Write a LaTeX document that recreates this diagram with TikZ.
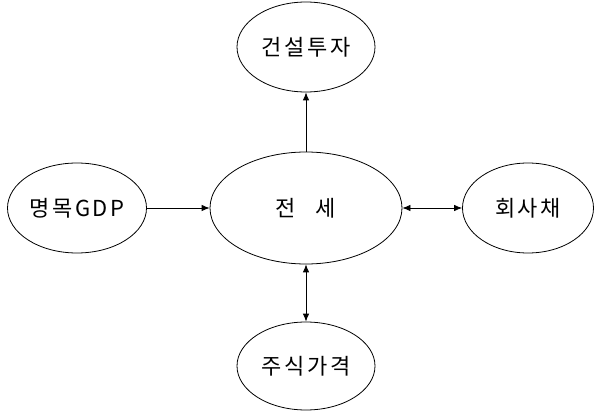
\documentclass[tikz,border=0pt]{standalone}
\usepackage{fontspec}
\usepackage{tikz}
\usetikzlibrary{shapes.geometric,arrows.meta}
\newfontfamily\kofont[LetterSpace=12]{Noto Sans CJK KR}
\tikzset{
  bubble/.style={ellipse,draw,line width=.8pt,inner sep=0pt,font=\kofont\fontsize{22}{25}\selectfont},
  link/.style={line width=.8pt,-{Latex[length=8pt,width=6.5pt]}},
  both/.style={line width=.8pt,{Latex[length=8pt,width=6.5pt]}-{Latex[length=8pt,width=6.5pt]}}
}

\begin{document}
\begin{tikzpicture}[x=1pt,y=1pt]
  \useasboundingbox (0,0) rectangle (595,413);
  \node[bubble,minimum width=192pt,minimum height=112pt] (jeonse) at (306,205) {전\hspace{20pt}세};
  \node[bubble,minimum width=138pt,minimum height=90pt] (invest) at (306,366) {건설투자};
  \node[bubble,minimum width=139pt,minimum height=90pt] (gdp) at (77,205) {명목GDP};
  \node[bubble,minimum width=131pt,minimum height=90pt] (bond) at (528,205) {회사채};
  \node[bubble,minimum width=138pt,minimum height=88pt] (stock) at (306,47) {주식가격};
  \draw[link] (jeonse) -- (invest);
  \draw[link] (gdp) -- (jeonse);
  \draw[both] (jeonse) -- (bond);
  \draw[both] (jeonse) -- (stock);
\end{tikzpicture}
\end{document}
